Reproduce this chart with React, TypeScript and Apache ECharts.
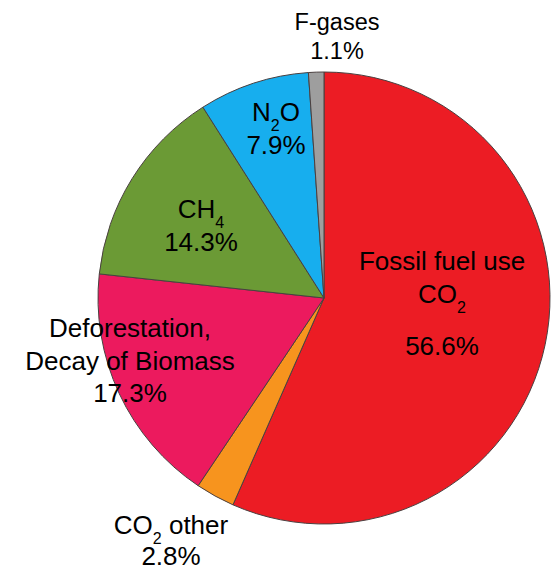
import React, { useEffect, useRef } from 'react';
import * as echarts from 'echarts';

const categories = ['Fossil fuel use CO2', 'CO2 other', 'Deforestation, Decay of Biomass', 'CH4', 'N2O', 'F-gases'];
const values = [56.6, 2.8, 17.3, 14.3, 7.9, 1.1];
const colors = ['#EC1C24', '#F7941E', '#EC1A5E', '#6B9A35', '#17AEEE', '#9E9E9E'];
// rich-text markup of each slice name (subscripts in {s|..})
const labelNames = [
  ['{t|Fossil fuel use}', '{t|CO}{s|2}'],
  ['{u|CO}{s2|2}{u| other}'],
  ['{t|Deforestation,}', '{t|Decay of Biomass}'],
  ['{t|CH}{s|4}'],
  ['{t|N}{s|2}{t|O}'],
  ['{f|F-gases}'],
];
const pctStyle = ['p', 'q', 't', 't', 't', 'f'];
const labelPos = [[442, 245], [171, 506], [130, 312], [201, 193], [276, 96], [337, 7]];

const FONT = '"Liberation Sans", Arial, Helvetica, sans-serif';

export default function App() {
  const ref = useRef<HTMLDivElement>(null);
  useEffect(() => {
    document.body.style.margin = '0';
    const chart = echarts.init(ref.current!, undefined, { renderer: 'svg' });
    const data = values.map((v, i) => ({
      value: v,
      name: categories[i],
      itemStyle: { color: colors[i] },
      label: {
        formatter: [...labelNames[i], `{${pctStyle[i]}|${v}%}`].join('\n'),
      },
    }));
    const base = { color: '#000', fontFamily: FONT };
    chart.setOption({
      animation: false,
      backgroundColor: '#ffffff',
      series: [
        {
          type: 'pie',
          center: [324, 298],
          radius: 226,
          startAngle: 90,
          clockwise: true,
          silent: true,
          avoidLabelOverlap: false,
          itemStyle: { borderColor: '#4a4040', borderWidth: 1 },
          labelLine: { show: false },
          label: {
            show: true,
            position: 'inside',
            color: '#000',
            fontFamily: FONT,
            align: 'center',
            rich: {
              t: { ...base, fontSize: 26, lineHeight: 32.5 },
              u: { ...base, fontSize: 26, lineHeight: 38 },
              p: { ...base, fontSize: 26, lineHeight: 72 },
              q: { ...base, fontSize: 26, lineHeight: 23 },
              f: { ...base, fontSize: 23.5, lineHeight: 29 },
              s: { ...base, fontSize: 16, lineHeight: 6, height: 6, verticalAlign: 'bottom' },
              s2: { ...base, fontSize: 16, lineHeight: 11.5, height: 11.5, verticalAlign: 'bottom' },
            },
          },
          labelLayout: (params: any) => ({
            x: labelPos[params.dataIndex][0],
            y: labelPos[params.dataIndex][1],
            align: 'center',
            verticalAlign: 'top',
          }),
          data,
        },
      ],
    });
    return () => chart.dispose();
  }, []);
  return <div ref={ref} style={{ width: 552, height: 571 }} />;
}
